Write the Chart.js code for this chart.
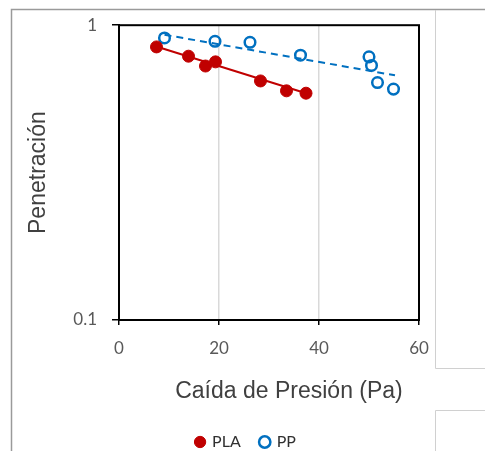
<!DOCTYPE html>
<html>
<head>
<meta charset="utf-8">
<script src="https://cdn.jsdelivr.net/npm/chart.js@4"></script>
<style>
  html, body { margin: 0; padding: 0; background: #fff; overflow: hidden; }
  #wrap { position: relative; width: 485px; height: 451px; }
</style>
</head>
<body>
<div id="wrap"><canvas id="c" width="485" height="451"></canvas></div>
<script>
// ── data ─────────────────────────────────────────────────────────────
const PLA_X = [7.5, 13.9, 17.3, 19.3, 28.3, 33.5, 37.4];
const PLA_Y = [0.844, 0.785, 0.727, 0.751, 0.647, 0.599, 0.588];
const PP_X = [9.1, 19.2, 26.2, 36.3, 50.0, 50.5, 51.7, 54.9];
const PP_Y = [0.905, 0.882, 0.875, 0.791, 0.781, 0.730, 0.639, 0.607];

// trend lines (exponential, straight on a log axis): end points
const PLA_TREND_X = [7.3, 37.4];
const PLA_TREND_Y = [0.848, 0.588];
const PP_TREND_X = [9.1, 55.2];
const PP_TREND_Y = [0.928, 0.676];

const X_TICKS = [0, 20, 40, 60];
const Y_TICKS = [0.1, 1];
const X_TITLE = "Caída de Presión (Pa)";
const Y_TITLE = "Penetración";

const RED = "#c00000";
const BLUE = "#0070c0";
const TXT = "#404040";
const TICK_TXT = "#595959";

const pts = (xs, ys) => xs.map((x, i) => ({ x, y: ys[i] }));

// ── frame, plot border, x title ──────────────────────────────────────
const decor = {
  id: "decor",
  afterLayout(chart) {
    // legend sits a bit right of the plot centre in the original
    chart.legend.left += 31;
    chart.legend.right += 31;
  },
  beforeDraw(chart) {
    const ctx = chart.ctx;
    ctx.save();
    ctx.fillStyle = "#fff";
    ctx.fillRect(0, 0, chart.width, chart.height);
    // outer frame
    ctx.strokeStyle = "#9a9a9a";
    ctx.lineWidth = 1.5;
    ctx.beginPath();
    ctx.moveTo(11.5, chart.height);
    ctx.lineTo(11.5, 9.5);
    ctx.lineTo(chart.width, 9.5);
    ctx.stroke();
    // side panels
    ctx.strokeStyle = "#d0d0d0";
    ctx.lineWidth = 1;
    ctx.beginPath();
    ctx.moveTo(435.5, 10);
    ctx.lineTo(435.5, 368.5);
    ctx.lineTo(chart.width, 368.5);
    ctx.moveTo(chart.width, 410.5);
    ctx.lineTo(435.5, 410.5);
    ctx.lineTo(435.5, chart.height);
    ctx.stroke();
    ctx.restore();
  },
  afterDraw(chart) {
    const { ctx, chartArea: a } = chart;
    ctx.save();
    ctx.strokeStyle = "#000";
    ctx.lineWidth = 2;
    ctx.strokeRect(a.left, a.top, a.right - a.left, a.bottom - a.top);
    ctx.fillStyle = TXT;
    ctx.font = "23px 'Liberation Sans', Arial, sans-serif";
    ctx.textAlign = "center";
    ctx.textBaseline = "middle";
    ctx.fillText(X_TITLE, 289, 392);
    ctx.restore();
  },
};

new Chart(document.getElementById("c"), {
  type: "scatter",
  data: {
    datasets: [
      {
        label: "PLA",
        data: pts(PLA_X, PLA_Y),
        pointStyle: "circle",
        pointRadius: 6,
        backgroundColor: RED,
        borderColor: RED,
        borderWidth: 1,
      },
      {
        label: "PP",
        data: pts(PP_X, PP_Y),
        pointStyle: "circle",
        pointRadius: 5.3,
        backgroundColor: "rgba(255,255,255,0)",
        borderColor: BLUE,
        borderWidth: 2.5,
      },
      {
        label: "trendPLA",
        data: pts(PLA_TREND_X, PLA_TREND_Y),
        showLine: true,
        borderColor: RED,
        borderWidth: 2,
        pointRadius: 0,
      },
      {
        label: "trendPP",
        data: pts(PP_TREND_X, PP_TREND_Y),
        showLine: true,
        borderColor: BLUE,
        borderWidth: 2,
        borderDash: [7, 5],
        pointRadius: 0,
      },
    ],
  },
  options: {
    responsive: false,
    animation: false,
    events: [],
    layout: { padding: { left: 11, top: 18, right: 66, bottom: -9 } },
    plugins: {
      tooltip: { enabled: false },
      legend: {
        position: "bottom",
        labels: {
          usePointStyle: true,
          boxHeight: 8,
          boxWidth: 8,
          padding: 20,
          color: "#303030",
          font: { family: "Lato, 'Open Sans', sans-serif", size: 16 },
          filter: (item) => !item.text.startsWith("trend"),
        },
      },
    },
    scales: {
      x: {
        type: "linear",
        min: 0,
        max: 60,
        afterBuildTicks: (axis) => {
          axis.ticks = X_TICKS.map((v) => ({ value: v }));
        },
        afterFit: (axis) => {
          axis.height = 94;
        },
        grid: {
          color: "#d9d9d9",
          lineWidth: 1.5,
          tickColor: "#000",
          tickLength: 5,
        },
        border: { color: "#000", width: 2 },
        ticks: {
          color: TICK_TXT,
          padding: 13,
          font: { family: "Lato, 'Open Sans', sans-serif", size: 17 },
          maxRotation: 0,
        },
      },
      y: {
        type: "logarithmic",
        min: 0.1,
        max: 1,
        afterBuildTicks: (axis) => {
          axis.ticks = Y_TICKS.map((v) => ({ value: v }));
        },
        afterFit: (axis) => {
          axis.width = 108;
        },
        grid: {
          drawOnChartArea: false,
          tickColor: "#000",
          tickLength: 7,
          lineWidth: 1.5,
        },
        border: { color: "#000", width: 2 },
        ticks: {
          color: TICK_TXT,
          padding: 15,
          font: { family: "Lato, 'Open Sans', sans-serif", size: 17 },
          callback: (v) => String(v),
        },
        title: {
          display: true,
          text: Y_TITLE,
          color: TXT,
          font: { family: "'Liberation Sans', Arial, sans-serif", size: 23 },
          padding: { top: 14, bottom: 0 },
        },
      },
    },
  },
  plugins: [decor],
});
</script>
</body>
</html>
